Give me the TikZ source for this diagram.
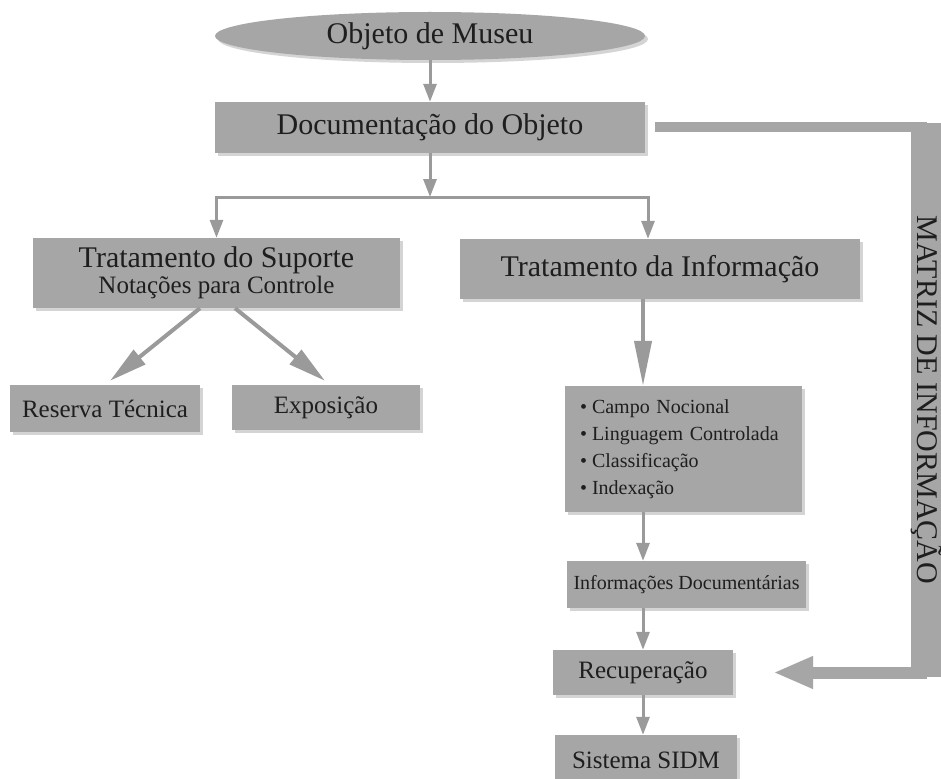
\documentclass[tikz,border=0pt]{standalone}
\usepackage{fontspec}
\setmainfont{Liberation Serif}
\usetikzlibrary{arrows.meta,shapes.geometric,shadows}
\definecolor{boxgray}{HTML}{A6A6A6}
\definecolor{arrgray}{HTML}{9A9A9A}
\definecolor{txt}{HTML}{1E1E1E}
\definecolor{shd}{HTML}{D4D4D4}
\begin{document}
\begin{tikzpicture}[x=1pt,y=-1pt,
 box/.style={rectangle, fill=boxgray, text=txt, inner sep=0pt,
   drop shadow={shadow xshift=3pt, shadow yshift=-3pt, fill=shd, opacity=1}},
 bigf/.style={font=\fontsize{30}{34}\selectfont},
 smallf/.style={font=\fontsize{25}{28}\selectfont},
 listf/.style={font=\fontsize{20}{27}\selectfont},
 thinarr/.style={draw=arrgray, line width=3pt, -{Triangle[width=13pt,length=18pt]}},
 fatarr/.style={draw=arrgray, line width=4pt, -{Triangle[width=18pt,length=38pt]}},
 tallarr/.style={draw=arrgray, line width=4pt, -{Triangle[width=17pt,length=45pt]}},
]
\useasboundingbox (0,0) rectangle (941,778);
\fill[white] (0,0) rectangle (941,778);
\begin{scope}
\clip (0,0) rectangle (941,778);

\node[box, ellipse, bigf, minimum width=430pt, minimum height=48pt] (obj) at (430,36) {Objeto de Museu};
\node[box, bigf, minimum width=430pt, minimum height=51pt] (doc) at (430,127.5) {Documentação do Objeto};
\node[box, align=center, minimum width=367pt, minimum height=70pt] (ts) at (216.5,273)
  {{\fontsize{30}{30}\selectfont Tratamento do Suporte}\\[1pt]{\fontsize{25}{28}\selectfont Notações para Controle}};
\node[box, bigf, minimum width=400pt, minimum height=60pt] (ti) at (660,269) {Tratamento da Informação};
\node[box, smallf, minimum width=190pt, minimum height=47pt] (rt) at (105,408.5) {Reserva Técnica};
\node[box, smallf, minimum width=188pt, minimum height=45pt] (ex) at (326,407.5) {Exposição};
\node[box, listf, text width=207pt, align=left, minimum width=237pt, minimum height=126pt] (bl) at (683.5,449)
  {\textbullet\hspace{5pt}Campo Nocional\\
   \textbullet\hspace{5pt}Linguagem Controlada\\
   \textbullet\hspace{5pt}Classificação\\
   \textbullet\hspace{5pt}Indexação};
\node[box, listf, minimum width=239pt, minimum height=47pt] (inf) at (686.5,584.5) {Informações Documentárias};
\node[box, smallf, minimum width=180pt, minimum height=45pt] (rec) at (643,672.5) {Recuperação};
\node[box, smallf, minimum width=182pt, minimum height=50pt] (sid) at (646,760) {Sistema SIDM};

\node[rectangle, fill=boxgray, text=txt, bigf, inner sep=0pt, rotate=-90,
  minimum width=554pt, minimum height=28pt] (mtx) at (927,400) {MATRIZ DE INFORMAÇÃO};

% connectors
\coordinate (sp) at (430,197);
\draw[thinarr] (obj) -- (doc);
\draw[thinarr] (doc.south) -- (sp);
\draw[draw=arrgray, line width=3pt] ([xshift=-1.5pt]ts.north |- sp) -- ([xshift=-10.5pt]ti.north |- sp);
\draw[thinarr] (ts.north |- sp) -- (ts.north);
\draw[thinarr] ([xshift=-12pt]ti.north |- sp) -- ([xshift=-12pt]ti.north);
\draw[fatarr] ([xshift=-16.5pt]ts.south) -- ([shift={(5,-4)}]rt.north);
\draw[fatarr] ([xshift=18.5pt]ts.south) -- ([shift={(-1,-4)}]ex.north);
\draw[tallarr] (ti.south -| rec.center) -- (bl.north -| rec.center);
\draw[thinarr] (bl.south -| rec.center) -- (inf.north -| rec.center);
\draw[thinarr] (inf.south -| rec.center) -- (rec.north);
\draw[thinarr] (rec.south) -- (sid.north -| rec.center);

\draw[draw=boxgray, line width=10pt] ([xshift=10pt]doc.east) -- (doc.east -| mtx.center);
\draw[draw=boxgray, line width=12pt, -{Triangle[width=30pt,length=40pt]}]
  (mtx.center |- rec.east) -- ([xshift=40pt]rec.east);
\end{scope}
\end{tikzpicture}
\end{document}
